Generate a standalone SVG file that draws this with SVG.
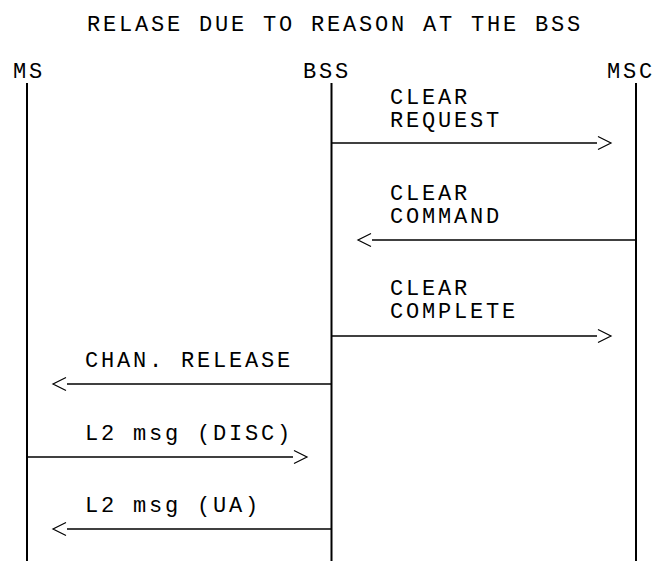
<svg xmlns="http://www.w3.org/2000/svg" width="656" height="561" viewBox="0 0 656 561">
<style>
text{font-family:"Liberation Mono","Courier New",monospace;font-size:22px;letter-spacing:2.8px;fill:#000}
.life{stroke:#000;stroke-width:2;fill:none}
.msg{stroke:#000;stroke-width:1.6;fill:none}
</style>
<defs>
<marker id="chev" markerUnits="userSpaceOnUse" markerWidth="20" markerHeight="20" refX="0" refY="8" orient="auto" overflow="visible">
<path d="M1,1.5 L14,8 L1,14.5" fill="none" stroke="#000" stroke-width="1.2"/>
</marker>
</defs>
<rect width="656" height="561" fill="#fff"/>
<text id="title" x="87" y="31">RELASE DUE TO REASON AT THE BSS</text>
<g id="MS"><text x="13" y="78">MS</text><line class="life" x1="27" y1="83" x2="27" y2="561"/></g>
<g id="BSS"><text x="303" y="78">BSS</text><line class="life" x1="331.5" y1="83" x2="331.5" y2="561"/></g>
<g id="MSC"><text x="607" y="78">MSC</text><line class="life" x1="636" y1="83" x2="636" y2="561"/></g>
<g id="connectors">
<line class="msg" x1="331" y1="143" x2="597" y2="143" marker-end="url(#chev)"/>
<line class="msg" x1="636" y1="240" x2="372" y2="240" marker-end="url(#chev)"/>
<line class="msg" x1="331" y1="336" x2="597" y2="336" marker-end="url(#chev)"/>
<line class="msg" x1="331" y1="384" x2="67" y2="384" marker-end="url(#chev)"/>
<line class="msg" x1="27" y1="457" x2="293" y2="457" marker-end="url(#chev)"/>
<line class="msg" x1="331" y1="529" x2="67" y2="529" marker-end="url(#chev)"/>
</g>
<g id="labels">
<text x="390" y="104">CLEAR<tspan x="390" dy="23">REQUEST</tspan></text>
<text x="390" y="200">CLEAR<tspan x="390" dy="23">COMMAND</tspan></text>
<text x="390" y="295">CLEAR<tspan x="390" dy="23">COMPLETE</tspan></text>
<text x="85" y="367">CHAN. RELEASE</text>
<text x="85" y="440">L2 msg (DISC)</text>
<text x="85" y="512">L2 msg (UA)</text>
</g>
</svg>
